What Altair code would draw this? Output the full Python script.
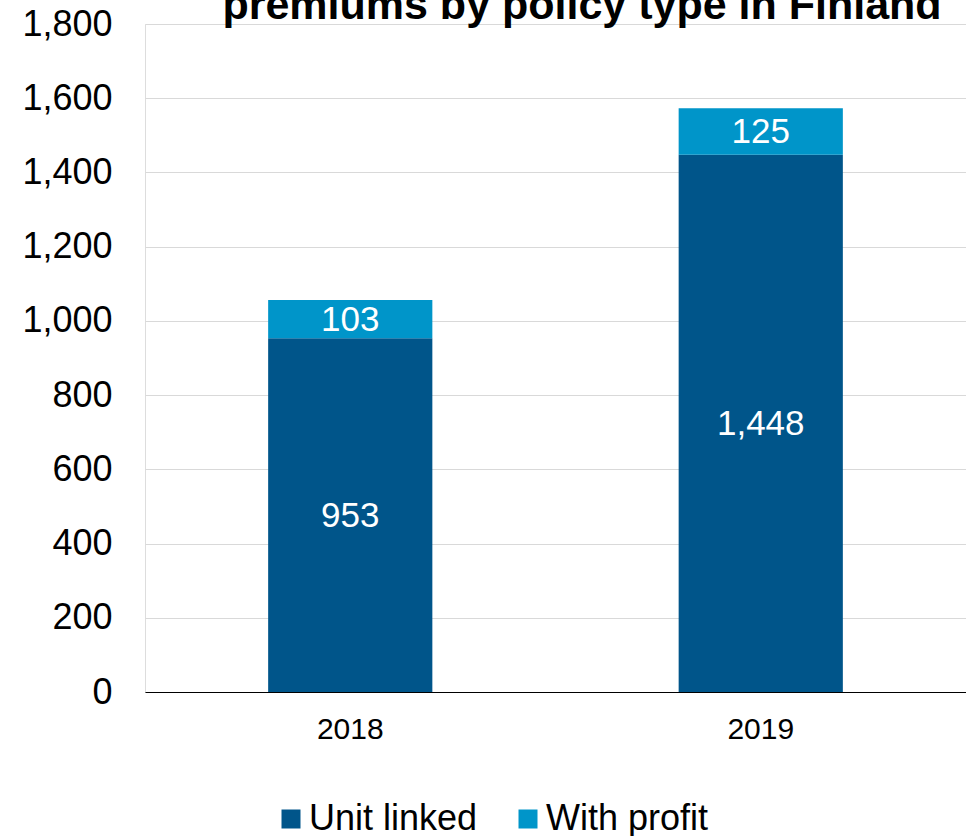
import altair as alt
import pandas as pd

title_text = "premiums by policy type in Finland"
years = ["2018", "2019"]
series = ["Unit linked", "With profit"]
unit_linked = [953, 1448]
with_profit = [103, 125]
y_ticks = [0, 200, 400, 600, 800, 1000, 1200, 1400, 1600, 1800]
colors = ["#00558A", "#0095C9"]

rows = []
for i, yr in enumerate(years):
    start = 0
    for s, vals in zip(series, [unit_linked, with_profit]):
        v = vals[i]
        rows.append({"year": yr, "series": s, "value": v, "start": start,
                     "end": start + v, "mid": start + v / 2})
        start += v
df = pd.DataFrame(rows)

FONT = "Liberation Sans"

x = alt.X("year:N", title=None,
          scale=alt.Scale(paddingInner=0.6, paddingOuter=0.3),
          axis=alt.Axis(labelAngle=0, labelFontSize=30, labelColor="#000000",
                        labelFont=FONT, labelPadding=22, ticks=False,
                        domainColor="#000000", domainWidth=1, grid=False))

bars = alt.Chart(df).mark_bar().encode(
    x=x,
    y=alt.Y("start:Q", title=None,
            scale=alt.Scale(domain=[0, 1800], nice=False),
            axis=alt.Axis(values=y_ticks, format=",.0f", labelFontSize=36,
                          labelColor="#000000", labelFont=FONT, labelPadding=33,
                          ticks=False, domain=False, gridColor="#D9D9D9",
                          gridWidth=1)),
    y2="end:Q",
    color=alt.Color("series:N", title=None,
                    scale=alt.Scale(domain=series, range=colors),
                    legend=alt.Legend(orient="none", direction="horizontal",
                                      legendX=128, legendY=777, padding=0,
                                      labelFontSize=36, labelFont=FONT,
                                      labelColor="#000000", labelLimit=0,
                                      symbolType="square",
                                      symbolSize=361, symbolStrokeWidth=0,
                                      symbolOpacity=1, columnPadding=32,
                                      labelOffset=0)),
)

labels = alt.Chart(df).mark_text(color="white", fontSize=35, font=FONT,
                                 baseline="middle", align="center", dy=1).encode(
    x=x,
    y=alt.Y("mid:Q"),
    text=alt.Text("value:Q", format=",.0f"),
)

title = alt.Chart(pd.DataFrame({"t": [title_text]})).mark_text(
    fontSize=43, font=FONT, fontWeight="bold", color="#000000",
    align="center", baseline="alphabetic").encode(
    x=alt.value(437), y=alt.value(-5), text="t:N")

chart = alt.layer(bars, labels, title).properties(
    width=821, height=668,
    autosize=alt.AutoSizeParams(type="none"),
    padding={"left": 145, "top": 24, "right": 0, "bottom": 144},
).configure_view(stroke=None).configure(background="white")

chart.save("out.html", embed_options={"renderer": "svg", "actions": False})
